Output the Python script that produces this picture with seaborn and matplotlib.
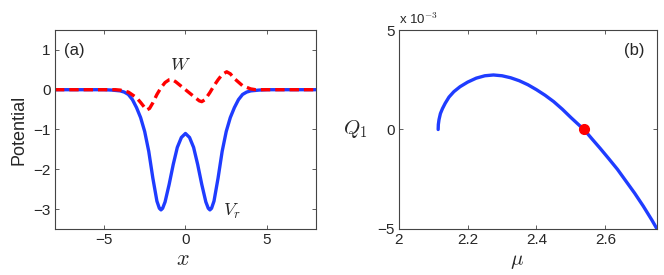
import numpy as np
import matplotlib
matplotlib.use("Agg")
import matplotlib.pyplot as plt
import seaborn as sns

sns.set_style("ticks")
plt.rcParams['font.family'] = ['Liberation Sans', 'DejaVu Sans']
plt.rcParams['mathtext.fontset'] = 'cm'

# ---- panel (a): potentials ----
x_vr = [-8, -6, -5, -4.5, -4.0, -3.75, -3.5, -3.25, -3.0, -2.75, -2.5, -2.25, -2.0, -1.75,
        -1.6, -1.5, -1.4, -1.25, -1.0, -0.75, -0.5, -0.25, 0, 0.25, 0.5, 0.75, 1.0, 1.25,
        1.4, 1.5, 1.6, 1.75, 2.0, 2.25, 2.5, 2.75, 3.0, 3.25, 3.5, 3.75, 4.0, 4.5, 5, 6, 8]
vr = [0, 0, 0, -0.01, -0.03, -0.06, -0.12, -0.25, -0.45, -0.70, -1.05, -1.55, -2.22, -2.8,
      -2.98, -3.02, -2.98, -2.82, -2.38, -1.88, -1.45, -1.20, -1.10, -1.20, -1.45, -1.88, -2.38, -2.82,
      -2.98, -3.02, -2.98, -2.8, -2.22, -1.55, -1.05, -0.70, -0.45, -0.25, -0.12, -0.06, -0.03, -0.01, 0, 0, 0]

x_w = [-8, -5, -4.3, -4.0, -3.5, -3.0, -2.75, -2.5, -2.37, -2.2, -2.0, -1.75, -1.5, -1.25,
       -1.0, -0.84, -0.6, -0.3, 0, 0.3, 0.6, 0.85, 1.0, 1.2, 1.5, 1.75, 2.0, 2.25, 2.53,
       2.75, 3.0, 3.5, 4.0, 4.3, 5, 8]
w = [0, 0, 0, -0.01, -0.06, -0.2, -0.32, -0.45, -0.51, -0.47, -0.33, -0.12, 0.05, 0.18,
     0.25, 0.26, 0.2, 0.1, 0.0, -0.1, -0.2, -0.28, -0.30, -0.25, -0.07, 0.1, 0.25, 0.38, 0.45,
     0.4, 0.28, 0.1, 0.02, 0, 0, 0]

# ---- panel (b): Q1 vs mu (units of 1e-3) ----
mu = [2.1145, 2.115, 2.117, 2.121, 2.127, 2.135, 2.146, 2.16, 2.178, 2.2, 2.225, 2.25, 2.275,
      2.30, 2.325, 2.35, 2.375, 2.40, 2.425, 2.45, 2.475, 2.50, 2.525, 2.538, 2.56, 2.585,
      2.61, 2.635, 2.66, 2.685, 2.71, 2.735, 2.75]
q1 = [0.0, 0.25, 0.5, 0.8, 1.05, 1.32, 1.63, 1.9, 2.15, 2.38, 2.58, 2.70, 2.74,
      2.70, 2.6, 2.45, 2.25, 2.0, 1.72, 1.4, 1.02, 0.6, 0.2, 0.0, -0.45, -0.95,
      -1.47, -2.0, -2.6, -3.2, -3.85, -4.55, -5.0]
mu_dot = [2.538]
q1_dot = [0.0]

blue = "#1f3cff"
red = "#ff0000"

fig = plt.figure(figsize=(6.64, 2.75), dpi=100)
ax1 = fig.add_axes([0.0828, 0.1673, 0.393, 0.7236])
ax2 = fig.add_axes([0.6005, 0.1673, 0.389, 0.7236])

sns.lineplot(x=x_vr, y=vr, ax=ax1, color=blue, linewidth=2.4, sort=False)
sns.lineplot(x=x_w, y=w, ax=ax1, color=red, linewidth=2.4, sort=False,
             linestyle=(0, (2.8, 1.5)))
ax1.set_xlim(-8, 8)
ax1.set_ylim(-3.5, 1.5)
ax1.set_xticks([-5, 0, 5])
ax1.set_yticks([-3, -2, -1, 0, 1])
ax1.set_ylabel("Potential", fontsize=13, labelpad=4)
ax1.set_xlabel(r"$x$", fontsize=16)
ax1.xaxis.set_label_coords(0.49, -0.155)
ax1.xaxis.label.set_va("center")
ax1.text(0.035, 0.935, "(a)", transform=ax1.transAxes, fontsize=12, va="top")
ax1.text(-0.33, 0.62, r"$W$", fontsize=13, ha="center", va="center")
ax1.text(2.84, -3.07, r"$V_r$", fontsize=13, ha="center", va="center")

sns.lineplot(x=mu, y=q1, ax=ax2, color=blue, linewidth=2.4, sort=False)
ax2.plot(mu_dot, q1_dot, "o", color=red, ms=7, zorder=5)
ax2.set_xlim(2, 2.75)
ax2.set_ylim(-5, 5)
ax2.set_xticks([2, 2.2, 2.4, 2.6])
ax2.set_xticklabels(["2", "2.2", "2.4", "2.6"])
ax2.set_yticks([-5, 0, 5])
ax2.set_xlabel(r"$\mu$", fontsize=15)
ax2.xaxis.set_label_coords(0.458, -0.165)
ax2.xaxis.label.set_va("center")
ax2.set_ylabel(r"$Q_1$", fontsize=15, rotation=0, va="center")
ax2.yaxis.set_label_coords(-0.17, 0.5)
ax2.text(0.95, 0.935, "(b)", transform=ax2.transAxes, fontsize=12, va="top", ha="right")
ax2.text(0.0, 1.015, r"x 10$^{-3}$", transform=ax2.transAxes, fontsize=9.5, va="bottom")

for ax in (ax1, ax2):
    ax.tick_params(direction="in", top=True, right=True, labelsize=11, length=3,
                   width=0.6, color="#444444", pad=3)
    for s in ax.spines.values():
        s.set_color("#444444")
        s.set_linewidth(0.8)

fig.savefig("out.png", dpi=100)
